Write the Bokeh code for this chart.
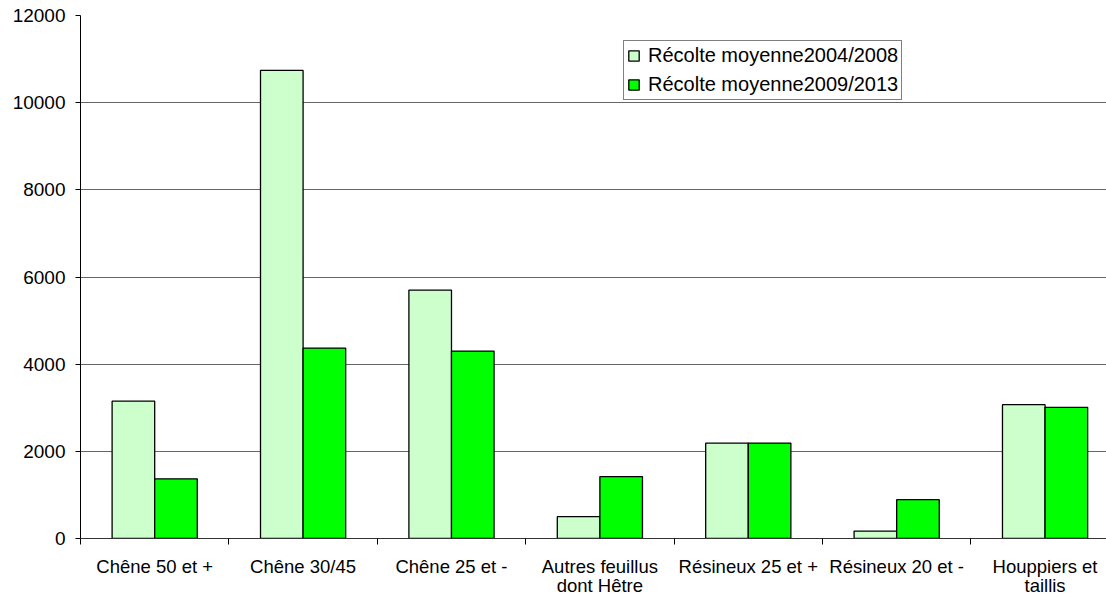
from bokeh.plotting import figure
from bokeh.models import FixedTicker, Range1d
from bokeh.embed import file_html
from bokeh.resources import INLINE

categories = ["Chêne 50 et +", "Chêne 30/45", "Chêne 25 et -",
              "Autres feuillus\ndont Hêtre", "Résineux 25 et +",
              "Résineux 20 et -", "Houppiers et\ntaillis"]
recolte_2004_2008 = [3150, 10740, 5700, 500, 2190, 170, 3070]
recolte_2009_2013 = [1370, 4370, 4300, 1420, 2190, 890, 3010]
series_labels = ["Récolte moyenne2004/2008", "Récolte moyenne2009/2013"]
series_colors = ["#CCFFCC", "#00FF00"]
y_ticks = [0, 2000, 4000, 6000, 8000, 10000, 12000]

FONT = "Liberation Sans"
n = len(categories)
centers = [i + 0.5 for i in range(n)]
bar_w = 0.287
x_light = [c - bar_w / 2 for c in centers]
x_green = [c + bar_w / 2 for c in centers]

p = figure(width=1106, height=598, output_backend="svg", toolbar_location=None,
           x_range=Range1d(0, 6.914), y_range=Range1d(0, 12000),
           min_border_left=80, min_border_right=0, min_border_top=15,
           min_border_bottom=59)
p.outline_line_color = None
p.background_fill_color = "white"
p.border_fill_color = "white"

p.vbar(x=x_light, top=recolte_2004_2008, width=bar_w, fill_color=series_colors[0],
       line_color="black", line_width=1.3, legend_label=series_labels[0])
p.vbar(x=x_green, top=recolte_2009_2013, width=bar_w, fill_color=series_colors[1],
       line_color="black", line_width=1.3, legend_label=series_labels[1])

# grid
p.xgrid.grid_line_color = None
p.ygrid.ticker = FixedTicker(ticks=y_ticks)
p.ygrid.grid_line_color = "#666666"
p.ygrid.grid_line_width = 1

# y axis
p.yaxis.ticker = FixedTicker(ticks=y_ticks)
p.yaxis.axis_line_color = "black"
p.yaxis.major_tick_line_color = "black"
p.yaxis.major_tick_out = 5
p.yaxis.major_tick_in = 0
p.yaxis.minor_tick_line_color = None
p.yaxis.major_label_standoff = 10
p.yaxis.major_label_text_font = FONT
p.yaxis.major_label_text_font_size = "19px"
p.yaxis.major_label_text_color = "black"

# x axis
p.xaxis.ticker = FixedTicker(ticks=centers, minor_ticks=list(range(0, n)))
p.xaxis.major_label_overrides = {c: lab for c, lab in zip(centers, categories)}
p.xaxis.major_tick_line_color = None
p.xaxis.major_tick_out = 0
p.xaxis.major_tick_in = 0
p.xaxis.minor_tick_line_color = "black"
p.xaxis.minor_tick_out = 6
p.xaxis.minor_tick_in = 0
p.xaxis.axis_line_color = "#333333"
p.xaxis.major_label_standoff = 11
p.xaxis.major_label_text_font = FONT
p.xaxis.major_label_text_font_size = "18.5px"
p.xaxis.major_label_text_color = "black"
p.xaxis.major_label_text_line_height = 0.92

# legend
lg = p.legend[0]
lg.location = (543, 438)
lg.border_line_color = "black"
lg.border_line_width = 1
lg.background_fill_color = "white"
lg.background_fill_alpha = 1
lg.label_text_font = FONT
lg.label_text_font_size = "20px"
lg.label_text_color = "black"
lg.glyph_width = 13
lg.glyph_height = 13
lg.label_standoff = 8
lg.padding = 3
lg.spacing = 6
lg.margin = 0
lg.label_height = 22

open("out.html", "w").write(file_html(p, INLINE))
